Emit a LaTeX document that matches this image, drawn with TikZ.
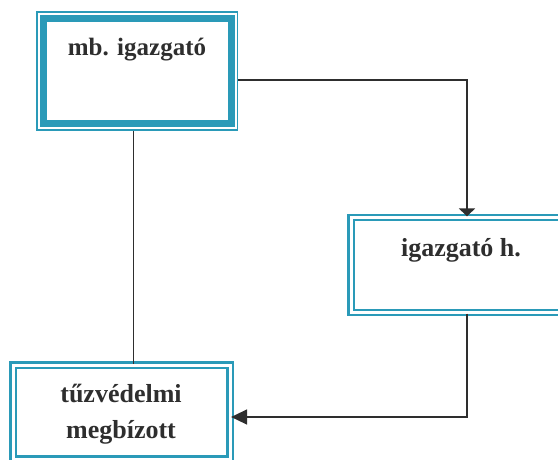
\documentclass[tikz,border=0pt]{standalone}
\usepackage{fontspec}
\setmainfont{Liberation Serif}
\usetikzlibrary{arrows.meta}
\definecolor{frame}{HTML}{2A9AB8}
\definecolor{ink}{HTML}{2E2E2E}
\tikzset{
  boxframe/.style={draw=frame, line width=2.2pt, double=white, double distance=3pt, inner sep=0pt},
  label/.style={font=\bfseries\fontsize{26}{36}\selectfont, text=ink, align=center, inner sep=0pt},
  conn/.style={draw=ink, line width=1.5pt},
}
\begin{document}
\begin{tikzpicture}[x=1pt, y=-1pt]
\useasboundingbox (0,0) rectangle (558,459);
\begin{scope}
\clip (0,0) rectangle (558,459);
% box 1: thin outer line + thick inner band
\node[draw=frame, line width=1.8pt, minimum width=200.5pt, minimum height=118pt, inner sep=0pt] (b1) at (137.25,71) {};
\draw[frame, line width=7pt] (43.5,18.5) rectangle (231.5,123);
% box 2
\node[boxframe, minimum width=214pt, minimum height=95pt] (b2) at (458,265) {};
% box 3
\node[boxframe, minimum width=217pt, minimum height=94pt] (b3) at (121.5,412) {};
% texts
\node[label, font=\bfseries\fontsize{25}{30}\selectfont, anchor=base] (t1) at (137,55) {mb. igazgató};
\node[label, anchor=base] (t2) at (461,256.5) {igazgató h.};
\node[label] (t3) at (121,414) {tűzvédelmi\\megbízott};
% connectors
\draw[conn] ([xshift=-3.75pt]b1.south) -- ([xshift=-3.75pt]b1.south |- b3.north);
\draw[conn, -{Triangle[length=8pt,width=16pt]}] ([yshift=-9pt]b1.east) -| ([xshift=9pt]b2.north);
\draw[conn, -{Triangle[length=16pt,width=15pt]}] ([xshift=9pt]b2.south) |- ([yshift=-5pt]b3.east);
\end{scope}
\end{tikzpicture}
\end{document}
